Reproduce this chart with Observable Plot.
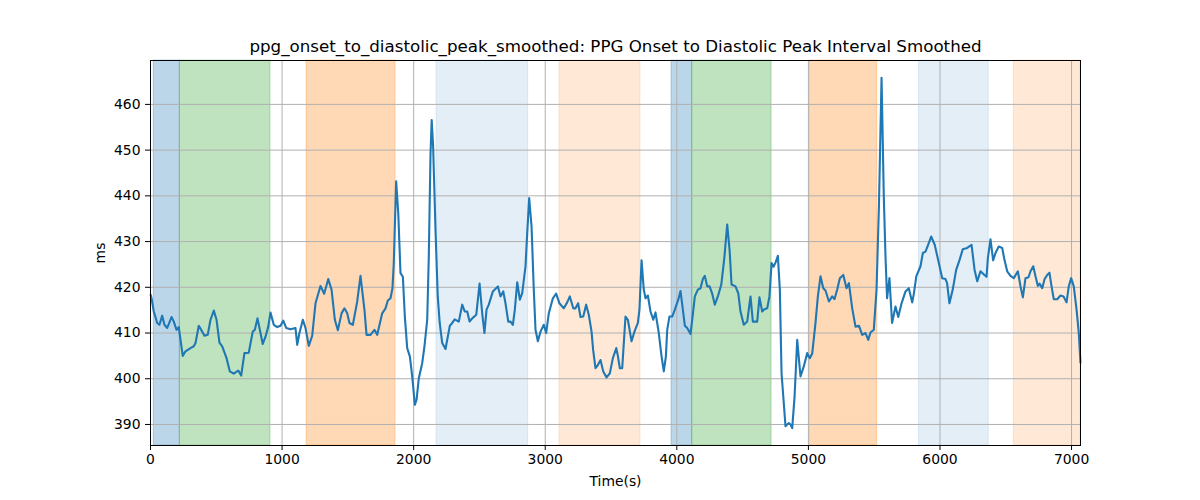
<!DOCTYPE html>
<html>
<head>
<meta charset="utf-8">
<script src="https://cdn.jsdelivr.net/npm/d3@7"></script>
<script src="https://cdn.jsdelivr.net/npm/@observablehq/plot@0.6"></script>
<style>
html,body{margin:0;padding:0;background:#fff;}
</style>
</head>
<body>
<div id="chart"></div>
<script>
const titleText = "ppg_onset_to_diastolic_peak_smoothed: PPG Onset to Diastolic Peak Interval Smoothed";
const xLabel = "Time(s)";
const yLabel = "ms";
const xTicks = [0,1000,2000,3000,4000,5000,6000,7000];
const yTicks = [390,400,410,420,430,440,450,460];

const spanStart = [25, 223, 1186, 2174, 3108, 3960, 4117, 5009, 5840, 6561];
const spanEnd   = [223, 912, 1862, 2870, 3724, 4117, 4720, 5523, 6371, 7068];
const spanKind  = ["blue","green","orange","lightblue","lightorange","blue","green","orange","lightblue","lightorange"];

const times = [0,8,25,51,68,89,106,127,160,177,198,215,228,245,266,304,329,342,367,393,410,435,456,481,502,524,545,578,603,633,667,689,714,747,777,793,813,836,853,874,895,912,937,963,988,1009,1031,1064,1102,1115,1132,1158,1178,1203,1229,1254,1292,1320,1351,1376,1401,1424,1452,1474,1495,1512,1538,1558,1571,1596,1626,1642,1672,1702,1723,1761,1786,1804,1824,1839,1849,1867,1883,1900,1918,1933,1951,1971,1989,2009,2022,2039,2065,2082,2103,2115,2128,2137,2148,2166,2183,2198,2217,2242,2275,2293,2312,2343,2369,2389,2407,2425,2445,2476,2501,2521,2538,2554,2571,2602,2640,2660,2681,2698,2719,2736,2754,2769,2787,2807,2825,2850,2863,2878,2896,2913,2926,2944,2964,2989,3007,3027,3058,3083,3108,3141,3167,3187,3213,3230,3250,3268,3289,3311,3331,3352,3364,3382,3400,3420,3441,3466,3491,3514,3540,3552,3567,3585,3610,3628,3656,3678,3704,3716,3732,3749,3762,3780,3800,3821,3838,3863,3884,3901,3917,3927,3944,3965,3985,4011,4028,4046,4061,4079,4104,4117,4137,4160,4180,4198,4213,4231,4249,4269,4289,4312,4338,4361,4383,4401,4416,4446,4467,4484,4509,4535,4560,4578,4593,4611,4628,4649,4666,4687,4704,4720,4735,4750,4768,4783,4796,4826,4851,4864,4877,4895,4915,4940,4965,4991,5011,5029,5054,5072,5092,5113,5130,5156,5181,5198,5219,5239,5265,5290,5308,5333,5358,5384,5409,5434,5455,5472,5497,5518,5536,5556,5573,5586,5598,5616,5636,5662,5683,5708,5738,5763,5789,5801,5820,5852,5870,5890,5910,5933,5960,5986,6017,6042,6054,6072,6097,6123,6149,6173,6207,6240,6263,6283,6308,6338,6354,6364,6384,6404,6422,6447,6473,6490,6511,6536,6561,6592,6612,6630,6650,6673,6688,6709,6726,6744,6757,6777,6795,6815,6832,6848,6865,6891,6916,6939,6962,6979,6997,7017,7038,7055,7068];
const values = [418.5,417.6,414.7,412.2,411.8,413.8,411.8,411.1,413.5,412.5,410.7,411.3,408.5,405.0,406.0,406.7,407.1,407.8,411.6,410.3,409.4,409.6,412.9,414.9,412.9,407.9,407.1,404.5,401.6,401.1,401.8,400.7,405.6,405.7,410.3,410.7,413.2,410.0,407.6,409.2,411.4,414.5,411.8,411.3,411.6,412.7,411.1,410.8,411.1,407.4,410.0,412.9,411.1,407.2,409.4,416.5,420.3,418.6,421.8,419.5,412.9,410.6,414.3,415.4,414.3,412.2,411.8,414.9,416.9,422.5,415.1,409.6,409.6,410.7,409.6,414.3,415.4,417.1,417.6,419.8,425.3,443.2,436.2,423.1,422.3,413.6,406.7,404.9,400.5,394.3,395.4,400.1,403.4,407.1,412.9,426.7,449.0,456.6,450.8,432.6,418.0,412.2,407.8,406.5,411.6,412.2,413.0,412.5,416.2,414.7,414.7,412.5,413.2,414.0,420.8,414.3,410.0,415.1,416.2,419.1,420.2,418.0,419.1,416.5,412.5,412.5,411.8,415.1,421.1,417.3,418.7,424.6,431.8,439.5,433.3,419.5,410.7,408.2,410.3,411.8,410.0,414.3,417.6,418.6,416.5,415.4,416.7,418.0,415.4,415.4,416.5,413.5,413.6,416.2,414.0,410.3,406.3,402.3,403.0,404.1,401.6,400.3,401.2,404.5,406.7,405.0,402.3,402.3,413.6,412.9,408.2,410.3,412.2,415.1,425.9,419.5,417.6,418.2,414.7,412.9,414.5,410.0,404.9,401.6,404.9,410.7,413.6,413.6,415.1,417.3,419.2,415.1,411.6,411.1,409.8,412.9,418.0,419.5,419.8,421.8,422.5,420.2,420.2,418.6,416.2,418.0,420.6,426.4,433.7,428.2,420.6,420.2,418.7,414.7,411.8,412.5,418.0,412.5,412.5,412.5,417.8,414.7,415.2,415.4,418.0,425.3,424.5,425.4,426.9,419.5,401.2,389.6,390.3,390.0,389.2,396.1,408.5,400.5,402.7,405.6,404.5,405.5,412.2,418.0,422.4,419.8,419.3,416.9,418.0,417.4,419.5,422.0,422.7,419.8,420.9,415.4,411.4,411.6,409.6,410.0,408.5,410.1,410.7,419.5,437.7,465.8,439.9,426.7,417.6,422.0,412.2,415.8,413.5,416.5,419.1,419.8,416.7,418.5,422.4,424.6,427.5,427.8,429.3,431.1,429.3,426.0,422.0,421.8,420.9,416.5,419.5,423.8,426.0,428.3,428.6,429.3,423.8,421.3,423.5,422.7,422.3,426.4,430.5,425.9,427.5,428.9,428.6,426.0,423.5,422.5,422.0,423.5,420.2,417.8,422.0,422.2,423.5,424.6,422.4,420.3,420.8,419.8,421.8,422.7,423.2,420.2,417.4,417.4,418.2,418.0,416.7,420.2,422.0,420.2,415.1,410.0,403.4];

const series = times.map((t, i) => ({t, v: values[i]}));
const spans = spanStart.map((s, i) => ({x1: s, x2: spanEnd[i], kind: spanKind[i]}));

const kindColor = {blue:"#1f77b4", green:"#2ca02c", orange:"#ff7f0e", lightblue:"#1f77b4", lightorange:"#ff7f0e"};
const kindOpacity = {blue:0.3, green:0.3, orange:0.3, lightblue:0.12, lightorange:0.17};

const font = "DejaVu Sans, sans-serif";

const chart = Plot.plot({
  width: 1200,
  height: 500,
  marginLeft: 150,
  marginRight: 120,
  marginTop: 60,
  marginBottom: 55,
  style: {fontFamily: font, fontSize: "13.9px", background: "#fff", color: "#000"},
  x: {domain: [0, 7068], label: null},
  y: {domain: [385.4, 469.6], label: null},
  marks: [
    Plot.rect(spans, {x1: "x1", x2: "x2", fill: d => kindColor[d.kind], fillOpacity: d => kindOpacity[d.kind], stroke: d => kindColor[d.kind], strokeOpacity: d => kindOpacity[d.kind], strokeWidth: 1, inset: 0}),
    Plot.gridX(xTicks, {stroke: "#b0b0b0", strokeOpacity: 1, strokeWidth: 1}),
    Plot.gridY(yTicks, {stroke: "#b0b0b0", strokeOpacity: 1, strokeWidth: 1}),
    Plot.line(series, {x: "t", y: "v", stroke: "#1f77b4", strokeWidth: 2.1, strokeLinejoin: "round", strokeLinecap: "butt"}),
    Plot.frame({stroke: "#000", strokeWidth: 1}),
    Plot.axisX(xTicks, {tickSize: 5, tickPadding: 4, fontSize: 13.9, label: null, tickFormat: d => String(d)}),
    Plot.axisY(yTicks, {tickSize: 5, tickPadding: 5, fontSize: 13.9, label: null, tickFormat: d => String(d)}),
    Plot.text([titleText], {frameAnchor: "top", dy: -14, fontSize: 16.7, lineAnchor: "middle", fill: "#000"}),
    Plot.text([xLabel], {frameAnchor: "bottom", dy: 36, fontSize: 13.9, lineAnchor: "middle", fill: "#000"}),
    Plot.text([yLabel], {frameAnchor: "left", dx: -50, rotate: -90, fontSize: 13.9, lineAnchor: "middle", textAnchor: "middle", fill: "#000"})
  ]
});
document.getElementById("chart").appendChild(chart);
</script>
</body>
</html>
